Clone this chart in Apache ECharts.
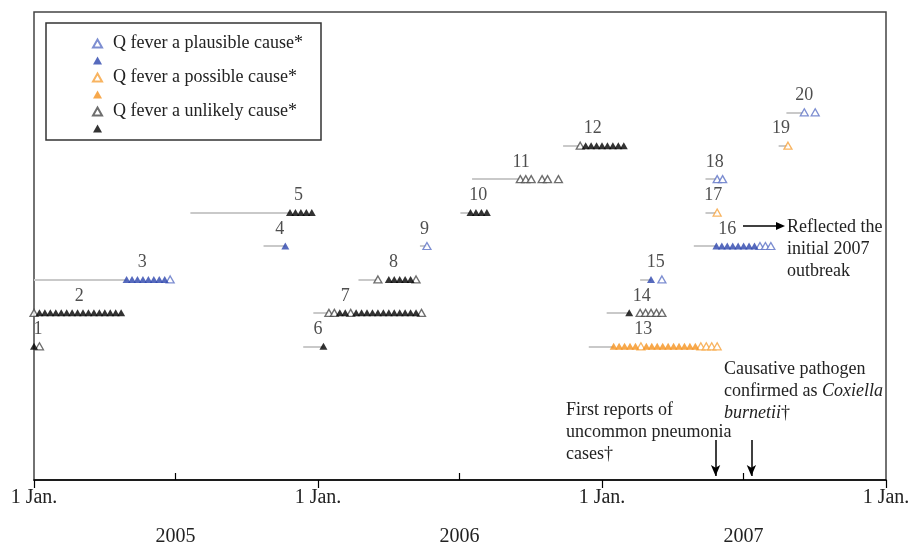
<!DOCTYPE html>
<html><head><meta charset="utf-8">
<script src="https://cdn.jsdelivr.net/npm/echarts@6/dist/echarts.min.js"></script>
<style>html,body{margin:0;padding:0;background:#fff}#c{width:913px;height:547px}</style>
</head><body><div id="c"></div>
<script>
// ---- data ----
const outbreakIds = ['1','2','3','4','5','6','7','8','9','10','11','12','13','14','15','16','17','18','19','20'];
const outbreakLevel = [1,2,3,4,5,1,2,3,4,5,6,7,1,2,3,4,5,6,7,8];
const lineStartDates = ['2005-01-01','2005-01-01','2005-01-01','2005-10-23','2005-07-21','2005-12-13','2005-12-26','2006-02-22','2006-05-12','2006-07-03',
  '2006-07-18','2006-11-12','2006-12-15','2007-01-07','2007-02-19','2007-04-29','2007-05-14','2007-05-14','2007-08-16','2007-08-26'];
const firstCaseDates = ['2005-01-01','2005-01-01','2005-04-30','2005-11-20','2005-11-26','2006-01-08','2006-01-15','2006-03-19','2006-05-21','2006-07-16',
  '2006-09-18','2006-12-04','2007-01-16','2007-02-05','2007-03-05','2007-05-28','2007-05-29','2007-05-29','2007-08-28','2007-09-18'];
// one character per week: B/b plausible (filled/open), O/o possible, K/k unlikely, '.' no case
const weeklyCasePatterns = ['Kk','kKKKKKKKKKKKKKKKK','BBBBBBBBb','B','KKKKK','K','kkKKkKKKKKKKKKKKKk','k.KKKKKk','b','KKKK',
  'kkk.kk.k','kKKKKKKKK','OOOOOoOOOOOOOOOOoooo','K.kkkkk','B.b','BBBBBBBBbbb','o','bb','o','b.b'];
const labelDates = ['2005-01-06','2005-02-28','2005-05-20','2005-11-13','2005-12-07','2006-01-01','2006-02-05','2006-04-08','2006-05-18','2006-07-26',
  '2006-09-19','2006-12-20','2007-02-23','2007-02-21','2007-03-11','2007-06-11','2007-05-24','2007-05-26','2007-08-19','2007-09-18'];
const eventDates = ['2007-05-27','2007-07-12'];
const janTickDates = ['2005-01-01','2006-01-01','2007-01-01','2008-01-01'];
const janTickLabel = '1 Jan.';
const yearLabels = ['2005','2006','2007'];
const midYearDates = ['2005-07-02','2006-07-02','2007-07-02'];
const seriesCodes = ['b','B','o','O','k','K'];
const legendTexts = ['Q fever a plausible cause*','','Q fever a possible cause*','','Q fever a unlikely cause*',''];

// ---- build ----
const FONT = '"Liberation Serif","Times New Roman",serif';
function dayOf(s){const p=s.split('-').map(Number);return (Date.UTC(p[0],p[1]-1,p[2])-Date.UTC(2005,0,1))/864e5;}
const WEEK = 7;
const styles = {
  b:{color:'#fff',borderColor:'#5d72c6',borderWidth:1.3},
  B:{color:'#2c45ac'},
  o:{color:'#fff',borderColor:'#f6a13a',borderWidth:1.3},
  O:{color:'#f5921e'},
  k:{color:'#fff',borderColor:'#4a4a4a',borderWidth:1.3},
  K:{color:'#000'}
};
const points = {b:[],B:[],o:[],O:[],k:[],K:[]};
weeklyCasePatterns.forEach((pat,i)=>{
  const d0 = dayOf(firstCaseDates[i]);
  for(let w=0; w<pat.length; w++){
    const c = pat[w];
    if(points[c]) points[c].push([d0 + w*WEEK, outbreakLevel[i]]);
  }
});
const lineData = outbreakIds.map((id,i)=>({coords:[[dayOf(lineStartDates[i]),outbreakLevel[i]],[dayOf(firstCaseDates[i]),outbreakLevel[i]]]}));
const labelData = outbreakIds.map((id,i)=>({name:id,value:[dayOf(labelDates[i]),outbreakLevel[i]]}));

const series = [{
  type:'lines', coordinateSystem:'cartesian2d', data:lineData, z:1, silent:true,
  lineStyle:{color:'#c9c9c9',width:2,opacity:1}
}];
seriesCodes.forEach(c=>{
  series.push({name:c,type:'scatter',symbol:'triangle',symbolSize:[8,7],data:points[c],itemStyle:styles[c],z:c===c.toUpperCase()?4:3,silent:true,clip:false});
});
series.push({
  type:'scatter', data:labelData, symbolSize:0, silent:true, z:5,
  label:{show:true,formatter:p=>p.name,position:[0,-17],align:'center',verticalAlign:'middle',
    fontFamily:FONT,fontSize:18,color:'#222'},
  markLine:{silent:true,symbol:['none','arrow'],symbolSize:[7,11],
    lineStyle:{color:'#000',width:1.5,type:'solid'},label:{show:false},
    data:eventDates.map(d=>[{coord:[dayOf(d),-1.8]},{coord:[dayOf(d),-2.88]}])}
});

const chart = echarts.init(document.getElementById('c'),null,{renderer:'canvas'});
chart.setOption({
  animation:false,
  backgroundColor:'#fff',
  grid:{left:34,right:27,top:12,bottom:65,show:true,borderColor:'#444',borderWidth:1.5,backgroundColor:'transparent'},
  xAxis:[{
    type:'value',min:0,max:dayOf('2008-01-01'),position:'bottom',
    axisLine:{show:true,onZero:false,lineStyle:{color:'#000',width:1.5}},
    axisTick:{show:true,inside:false,length:8,customValues:janTickDates.map(dayOf),lineStyle:{color:'#000',width:1.2}},
    axisLabel:{show:true,customValues:janTickDates.map(dayOf),formatter:()=>janTickLabel,margin:8,
      fontFamily:FONT,fontSize:20,color:'#222'},
    splitLine:{show:false}
  },{
    type:'value',min:0,max:dayOf('2008-01-01'),position:'bottom',
    axisLine:{show:false,onZero:false},
    axisTick:{show:true,inside:true,length:7,customValues:midYearDates.map(dayOf),lineStyle:{color:'#000',width:1.2}},
    axisLabel:{show:true,customValues:midYearDates.map(dayOf),
      formatter:(v)=>{const i=midYearDates.map(dayOf).indexOf(v);return i>=0?yearLabels[i]:'';},
      margin:47,fontFamily:FONT,fontSize:20,color:'#222'},
    splitLine:{show:false}
  }],
  yAxis:{type:'value',min:-3,max:11,show:false},
  legend:{
    orient:'vertical',left:92,top:34.5,padding:0,itemWidth:9,itemHeight:8,itemGap:4,
    selectedMode:false,icon:'triangle',data:seriesCodes,
    formatter:n=>legendTexts[seriesCodes.indexOf(n)],
    textStyle:{fontFamily:FONT,fontSize:18,color:'#222',lineHeight:9,padding:[0,0,0,6]}
  },
  graphic:[
    {type:'rect',shape:{x:46,y:23,width:275,height:117},style:{fill:'none',stroke:'#333',lineWidth:1.5},z:0},
    {type:'text',left:787,top:216,style:{text:'Reflected the\ninitial 2007\noutbreak',font:'18px '+FONT,fill:'#222',lineHeight:22}},
    {type:'text',left:566,top:399,style:{text:'First reports of\nuncommon pneumonia\ncases\u2020',font:'18px '+FONT,fill:'#222',lineHeight:22}},
    {type:'text',left:724,top:358,style:{text:'Causative pathogen\nconfirmed as {i|Coxiella}\n{i|burnetii}\u2020',fontFamily:FONT,fontSize:18,fill:'#222',lineHeight:22,
      rich:{i:{fontStyle:'italic',fontFamily:FONT,fontSize:18,fill:'#222',lineHeight:22}}}},
    {type:'line',shape:{x1:743,y1:226,x2:778,y2:226},style:{stroke:'#000',lineWidth:1.5}},
    {type:'polygon',shape:{points:[[776,222],[785,226],[776,230]]},style:{fill:'#000'}}
  ],
  series:series
});
</script></body></html>
